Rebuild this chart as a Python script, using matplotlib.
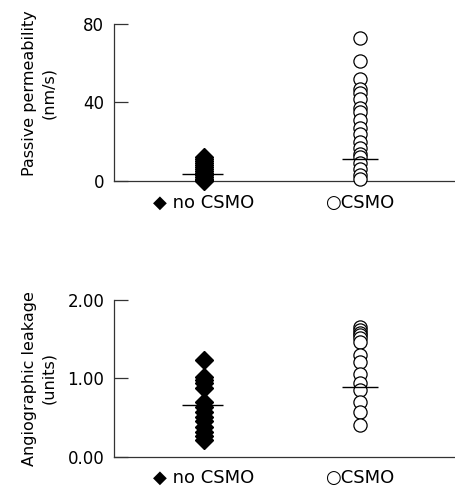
import matplotlib
matplotlib.use("Agg")
import matplotlib.pyplot as plt

# Groups and values
groups = ["\u25c6 no CSMO", "\u25cbCSMO"]

perm_no_csmo = [12, 11, 10, 9, 8, 7, 6, 5, 4, 3, 2, 1, 0.5, 0]
perm_csmo = [73, 61, 52, 47, 45, 42, 37, 35, 31, 27, 24, 20, 17, 14, 12, 9, 6, 3, 1]
perm_lines = [3.5, 11.2]

leak_no_csmo = [1.24, 1.02, 0.98, 0.94, 0.88, 0.70, 0.64, 0.57, 0.51,
                0.45, 0.38, 0.32, 0.26, 0.21]
leak_csmo = [1.65, 1.62, 1.58, 1.55, 1.51, 1.46, 1.30, 1.21, 1.06,
             0.94, 0.85, 0.70, 0.57, 0.41]
leak_lines = [0.66, 0.885]

plt.rcParams["font.family"] = ["DejaVu Sans"]

fig = plt.figure(figsize=(4.55, 4.88), dpi=100)
ax1 = fig.add_axes([0.2505, 0.629, 0.7495, 0.322])
ax2 = fig.add_axes([0.2505, 0.0642, 0.7495, 0.321])


def draw_panel(ax, no_vals, yes_vals, lines, ylim, yticks, yticklabels, ylabel, label_y):
    ax.plot([1] * len(no_vals), no_vals, linestyle="none", marker="D",
            markersize=9, color="black", clip_on=False, zorder=3)
    ax.plot([2] * len(yes_vals), yes_vals, linestyle="none", marker="o",
            markersize=9.5, markerfacecolor="white", markeredgecolor="black",
            markeredgewidth=0.9, clip_on=False, zorder=3)
    ax.hlines(lines[0], 1 - 0.14, 1 + 0.12, color="black", linewidth=1, zorder=4)
    ax.hlines(lines[1], 2 - 0.115, 2 + 0.115, color="black", linewidth=1, zorder=4)

    ax.set_xlim(0.423, 2.609)
    ax.set_ylim(*ylim)
    ax.set_yticks(yticks)
    ax.set_yticklabels(yticklabels)
    ax.set_xticks([1, 2])
    ax.set_xticklabels(groups, fontsize=13)

    for s in ["top", "right"]:
        ax.spines[s].set_visible(False)
    for s in ["left", "bottom"]:
        ax.spines[s].set_color("#333333")
        ax.spines[s].set_linewidth(0.9)

    ax.tick_params(axis="y", direction="in", length=10, width=0.9,
                   color="#333333", labelsize=12, pad=7)
    ax.tick_params(axis="x", length=0, pad=9)
    ax.set_ylabel(ylabel, fontsize=11.5, linespacing=1.35)
    ax.yaxis.set_label_coords(-0.17, label_y)


draw_panel(ax1, perm_no_csmo, perm_csmo, perm_lines, (0, 80), [0, 40, 80],
           ["0", "40", "80"], "Passive permeability\n(nm/s)", 0.56)
draw_panel(ax2, leak_no_csmo, leak_csmo, leak_lines, (0, 2), [0, 1, 2],
           ["0.00", "1.00", "2.00"], "Angiographic leakage\n(units)", 0.5)

fig.savefig("out.png", dpi=100)
